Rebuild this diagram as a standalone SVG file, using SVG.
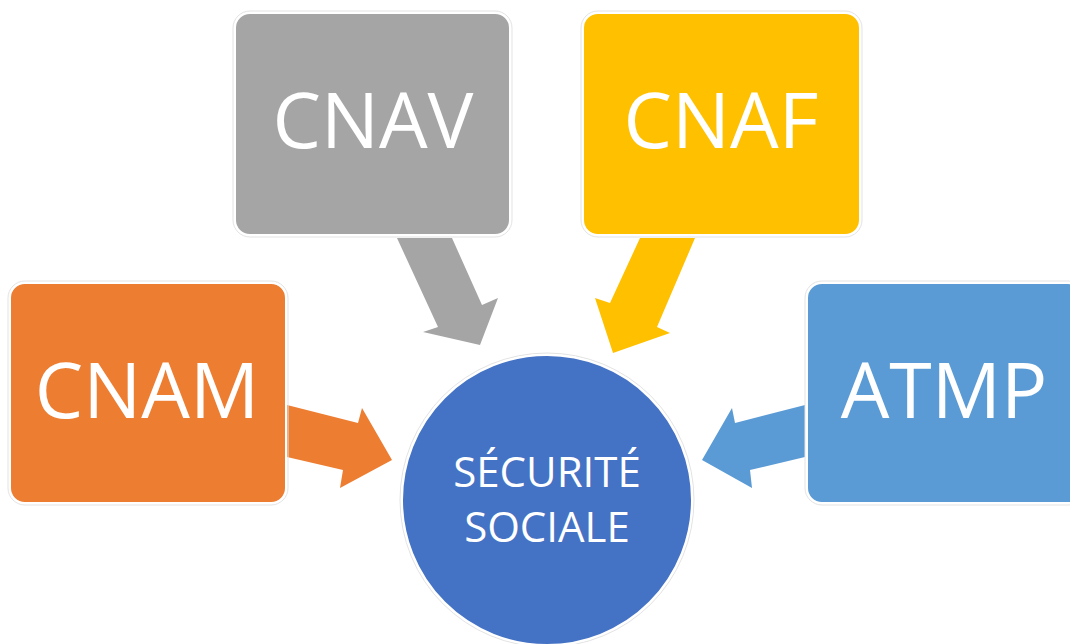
<svg xmlns="http://www.w3.org/2000/svg" width="1070" height="644" viewBox="0 0 1070 644">
<style>
.box{stroke:#ffffff;stroke-width:2}
.halo{fill:none;stroke:#e3e3e3;stroke-width:1}
.lbl{font-family:"Open Sans","Liberation Sans",sans-serif;fill:#ffffff;text-anchor:middle}
.big{font-size:77px}
.small{font-size:42px}
</style>
<rect width="1070" height="644" fill="#ffffff"/>
<g id="connectors">
<polygon points="397,238 452,238 482,305 498,298 480,345 423,332 438,327" fill="#A5A5A5"/>
<polygon points="640,238 695,238 657,327 670,333 613,353 595,298 610,303" fill="#FFC000"/>
<polygon points="287,405 358,423 362,408 392,460 340,488 343,470 287,457" fill="#ED7D31"/>
<polygon points="805,405 735,423 732,408 702,460 752,488 750,470 805,457" fill="#5B9BD5"/>
</g>
<g id="node-cnam">
<rect x="8" y="281" width="280" height="224" rx="17" class="halo"/>
<rect x="10" y="283" width="276" height="220" rx="15" fill="#ED7D31" class="box"/>
<text x="147" y="418" class="lbl big">CNAM</text>
</g>
<g id="node-cnav">
<rect x="233" y="11" width="279" height="226" rx="17" class="halo"/>
<rect x="235" y="13" width="275" height="222" rx="15" fill="#A5A5A5" class="box"/>
<text x="373" y="148" class="lbl big">CNAV</text>
</g>
<g id="node-cnaf">
<rect x="581" y="11" width="281" height="226" rx="17" class="halo"/>
<rect x="583" y="13" width="277" height="222" rx="15" fill="#FFC000" class="box"/>
<text x="721" y="148" class="lbl big">CNAF</text>
</g>
<g id="node-atmp">
<rect x="805" y="281" width="280" height="224" rx="17" class="halo"/>
<rect x="807" y="283" width="276" height="220" rx="15" fill="#5B9BD5" class="box"/>
<text x="944" y="418" class="lbl big">ATMP</text>
</g>
<g id="node-securite">
<circle cx="547" cy="500" r="147" class="halo"/>
<circle cx="547" cy="500" r="145" fill="#4472C4" class="box"/>
<text x="547" y="487" class="lbl small">SÉCURITÉ</text>
<text x="547" y="542" class="lbl small">SOCIALE</text>
</g>
</svg>
